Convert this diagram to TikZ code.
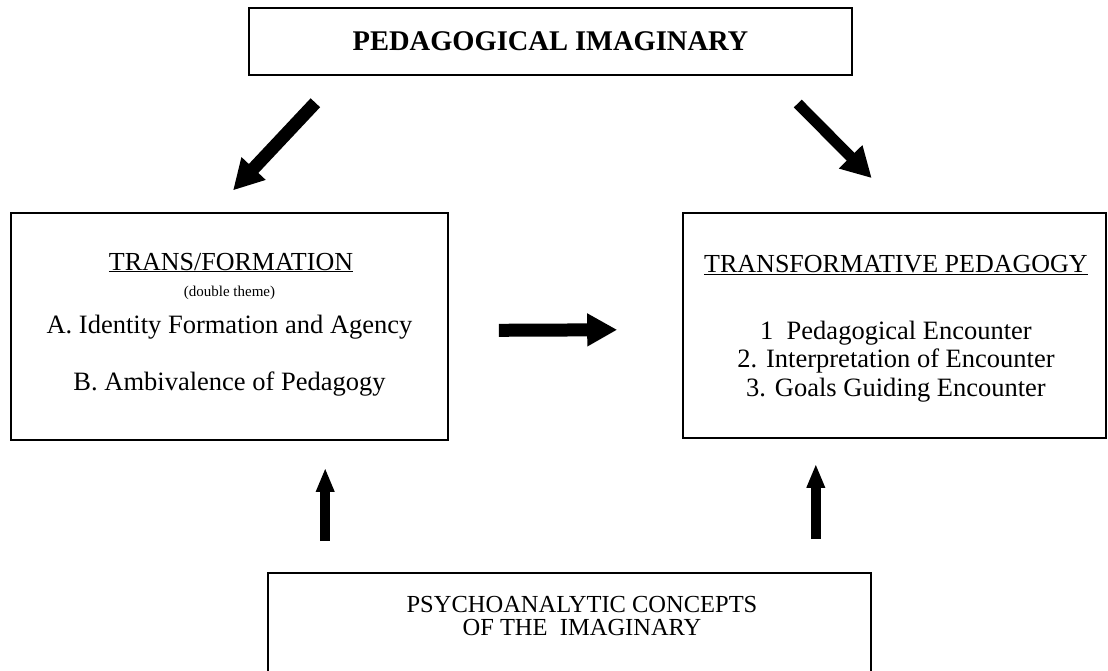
\documentclass[tikz,border=0pt]{standalone}
\usepackage{fontspec}
\setmainfont{Liberation Serif}
\usetikzlibrary{arrows.meta,positioning}
\tikzset{
box/.style={draw, line width=1.6pt, inner sep=0pt},
boldtxt/.style={font=\bfseries\fontsize{28.5}{32}\selectfont, inner sep=0pt},
headtxt/.style={font=\fontsize{26}{30}\selectfont, inner sep=0pt, text height=18pt, text depth=6pt},
itemtxt/.style={font=\fontsize{26.5}{30}\selectfont, inner sep=0pt, text height=18pt, text depth=6pt},
smalltxt/.style={font=\fontsize{15}{18}\selectfont, inner sep=0pt},
basetxt/.style={font=\fontsize{24.5}{28}\selectfont, inner sep=0pt, text height=17pt, text depth=5pt},
fat/.style={line width=13pt, -{Triangle[length=30pt,width=31pt]}},
uparr/.style={line width=10.5pt, -{Triangle[length=24pt,width=17pt]}}
}

\begin{document}
\begin{tikzpicture}[x=1pt, y=-1pt, node distance=28.5pt]
\useasboundingbox (0,0) rectangle (1108,670);

\node[box, minimum width=603pt, minimum height=67pt] (imag) at (550.5,41.5) {};
\node[boldtxt] (imagtxt) at (imag) {PEDAGOGICAL IMAGINARY};

\node[box, minimum width=437pt, minimum height=227pt] (trans) at (229.5,326.5) {};
\node[box, minimum width=423pt, minimum height=225pt] (tped) at (894.5,325.5) {};
\node[box, minimum width=603pt, minimum height=117pt] (pc) at (569.5,631.5) {};

% left box
\node[headtxt] (t0) at (231,264) {\underline{TRANS/FORMATION}};
\node[smalltxt] (t1) at (229.5,293) {(double theme)};
\node[itemtxt] (t2) at (229.5,327) {A. Identity Formation and Agency};
\node[itemtxt] (t3) at (229.5,384) {B. Ambivalence of Pedagogy};

% right box
\node[headtxt] (p0) at (896,266) {\underline{TRANSFORMATIVE PEDAGOGY}};
\node[itemtxt] (p1) at (896,333) {1\enspace Pedagogical Encounter};
\node[itemtxt, below of = p1] (p2) {2. Interpretation of Encounter};
\node[itemtxt, below of = p2] (p3) {3. Goals Guiding Encounter};

% bottom box
\node[basetxt] (c1) at (582,606) {PSYCHOANALYTIC CONCEPTS};
\node[basetxt, below of = c1, node distance=23pt] (c2) {OF THE \ IMAGINARY};

\draw[fat, shorten <=37pt, shorten >=30pt] ([xshift=92.5pt]imag.south west) -- ([xshift=-17pt]trans.north);
\draw[fat, line width=11pt, shorten <=39pt, shorten >=48pt] ([xshift=-82.5pt]imag.south east) -- ([xshift=11pt]tped.north);
\draw[fat, shorten <=50pt, shorten >=65pt] ([yshift=-4pt]trans.east) -- ([yshift=-4pt]tped.west);

\coordinate (b1) at ([xshift=58pt]pc.north west);
\coordinate (b2) at ([xshift=-56pt]pc.north east);
\draw[uparr, shorten <=31pt, shorten >=27pt] (b1) -- (b1 |- trans.south);
\draw[uparr, shorten <=33pt, shorten >=25pt] (b2) -- (b2 |- tped.south);
\end{tikzpicture}
\end{document}
